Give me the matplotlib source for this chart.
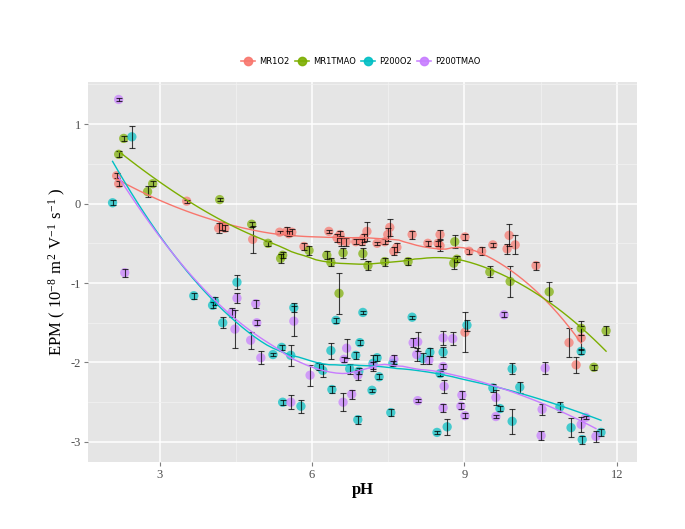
import numpy as np
import matplotlib
matplotlib.use("Agg")
import matplotlib.pyplot as plt
from matplotlib.lines import Line2D
from matplotlib.ticker import MultipleLocator

plt.rcParams["axes.unicode_minus"] = False

# MR1O2
mr1o2_ph = [2.15, 2.19, 3.53, 4.16, 4.22, 4.28, 4.83, 5.36, 5.50, 5.54, 5.60, 5.84,
            6.33, 6.49, 6.55, 6.57, 6.67, 6.86, 6.98, 7.02, 7.08, 7.28, 7.43, 7.49,
            7.53, 7.61, 7.67, 7.97, 8.28, 8.48, 8.52, 8.52, 9.01, 9.09, 9.34, 9.56,
            9.84, 9.88, 10.00, 10.41, 11.06, 11.30, 11.20, 9.01]
mr1o2_epm = [0.35, 0.25, 0.03, -0.31, -0.28, -0.31, -0.45, -0.36, -0.35, -0.38, -0.36, -0.54,
             -0.35, -0.43, -0.39, -0.47, -0.48, -0.48, -0.48, -0.43, -0.35, -0.50, -0.48, -0.39,
             -0.30, -0.60, -0.55, -0.39, -0.50, -0.50, -0.39, -0.53, -0.42, -0.60, -0.60, -0.52,
             -0.57, -0.40, -0.52, -0.78, -1.75, -1.69, -2.03, -1.62]
mr1o2_sd = [0.03, 0.03, 0.02, 0.06, 0.05, 0.04, 0.17, 0.02, 0.05, 0.03, 0.04, 0.04,
            0.02, 0.05, 0.04, 0.06, 0.05, 0.03, 0.04, 0.05, 0.12, 0.02, 0.03, 0.08,
            0.11, 0.05, 0.06, 0.05, 0.03, 0.03, 0.06, 0.07, 0.04, 0.03, 0.05, 0.03,
            0.06, 0.14, 0.12, 0.05, 0.18, 0.15, 0.10, 0.25]

# MR1TMAO
mr1tmao_ph = [2.29, 2.19, 2.86, 2.76, 4.18, 4.81, 5.13, 5.38, 5.42, 5.94, 6.29, 6.37,
              6.61, 6.53, 7.00, 7.10, 7.43, 7.89, 8.81, 8.79, 8.85, 9.50, 9.90, 10.67,
              11.30, 11.79, 11.55]
mr1tmao_epm = [0.82, 0.62, 0.25, 0.15, 0.05, -0.26, -0.50, -0.69, -0.65, -0.59, -0.65, -0.74,
               -0.62, -1.13, -0.63, -0.78, -0.73, -0.73, -0.48, -0.75, -0.70, -0.86, -0.98, -1.11,
               -1.57, -1.60, -2.06]
mr1tmao_sd = [0.03, 0.04, 0.03, 0.07, 0.02, 0.03, 0.03, 0.06, 0.04, 0.06, 0.05, 0.05,
              0.06, 0.26, 0.07, 0.06, 0.05, 0.04, 0.08, 0.07, 0.04, 0.07, 0.20, 0.12,
              0.09, 0.06, 0.03]

# P200O2
p200o2_ph = [2.07, 2.45, 3.67, 4.08, 4.04, 4.24, 4.52, 5.40, 5.23, 5.58, 5.64, 5.42,
             5.78, 6.13, 6.21, 6.39, 6.37, 6.47, 6.74, 6.86, 6.94, 7.00, 6.90, 7.18,
             7.20, 7.28, 7.32, 7.55, 7.59, 7.97, 8.18, 8.32, 8.58, 8.52, 8.46, 8.66,
             9.05, 9.56, 9.70, 9.94, 9.94, 10.09, 10.88, 11.10, 11.30, 11.32, 11.69, 6.92]
p200o2_epm = [0.01, 0.84, -1.16, -1.23, -1.28, -1.50, -0.99, -1.81, -1.90, -1.91, -1.31, -2.50,
              -2.55, -2.05, -2.10, -2.34, -1.85, -1.47, -2.08, -1.91, -1.75, -1.37, -2.72, -2.35,
              -2.01, -1.94, -2.18, -2.63, -2.01, -1.43, -1.95, -1.87, -1.87, -2.14, -2.88, -2.81,
              -1.53, -2.32, -2.58, -2.08, -2.74, -2.31, -2.56, -2.82, -1.86, -2.97, -2.88, -2.11]
p200o2_sd = [0.03, 0.14, 0.04, 0.05, 0.04, 0.07, 0.09, 0.03, 0.02, 0.13, 0.06, 0.03,
             0.08, 0.04, 0.08, 0.05, 0.10, 0.03, 0.06, 0.04, 0.03, 0.02, 0.05, 0.02,
             0.10, 0.04, 0.03, 0.04, 0.03, 0.02, 0.07, 0.05, 0.06, 0.03, 0.02, 0.10,
             0.07, 0.05, 0.03, 0.07, 0.16, 0.07, 0.06, 0.12, 0.03, 0.05, 0.04, 0.04]

# P200TMAO
p200tmao_ph = [2.19, 2.31, 4.52, 4.89, 4.42, 4.48, 4.91, 4.79, 4.99, 5.64, 5.58, 5.96,
               6.63, 6.68, 6.61, 6.78, 6.90, 7.20, 7.61, 7.99, 8.08, 8.06, 8.08, 8.30,
               8.58, 8.77, 8.58, 8.60, 8.58, 8.93, 8.95, 9.01, 9.62, 9.62, 9.78, 10.59,
               10.53, 10.51, 11.30, 11.39, 11.59]
p200tmao_epm = [1.31, -0.87, -1.19, -1.26, -1.37, -1.58, -1.50, -1.72, -1.94, -1.48, -2.50, -2.16,
                -1.96, -1.82, -2.50, -2.40, -2.16, -2.04, -1.96, -1.75, -1.74, -1.90, -2.48, -1.97,
                -1.69, -1.70, -2.05, -2.30, -2.57, -2.55, -2.41, -2.67, -2.44, -2.68, -1.40, -2.07,
                -2.59, -2.92, -2.78, -2.69, -2.93]
p200tmao_sd = [0.02, 0.05, 0.06, 0.05, 0.06, 0.24, 0.03, 0.11, 0.08, 0.19, 0.09, 0.13,
               0.03, 0.12, 0.11, 0.06, 0.06, 0.04, 0.06, 0.06, 0.12, 0.08, 0.02, 0.05,
               0.09, 0.08, 0.03, 0.08, 0.05, 0.04, 0.05, 0.03, 0.09, 0.02, 0.03, 0.07,
               0.07, 0.06, 0.10, 0.02, 0.07]

labels = ["MR1O2", "MR1TMAO", "P200O2", "P200TMAO"]
colors = ["#F8766D", "#7CAE00", "#00BFC4", "#C77CFF"]


def loess(x, y, span=0.75, n=80):
    # local quadratic fit with tricube weights, like R's loess default
    x = np.asarray(x, float)
    y = np.asarray(y, float)
    grid = np.linspace(x.min(), x.max(), n)
    q = int(np.floor(span * len(x)))
    fit = []
    for g in grid:
        d = np.abs(x - g)
        h = np.sort(d)[q - 1]
        w = np.clip(1 - (d / h) ** 3, 0, None) ** 3
        A = np.vstack([np.ones_like(x), x - g, (x - g) ** 2]).T
        sw = np.sqrt(w)
        coef = np.linalg.lstsq(A * sw[:, None], y * sw, rcond=None)[0]
        fit.append(coef[0])
    return grid, np.array(fit)


series = [
    (mr1o2_ph, mr1o2_epm, mr1o2_sd),
    (mr1tmao_ph, mr1tmao_epm, mr1tmao_sd),
    (p200o2_ph, p200o2_epm, p200o2_sd),
    (p200tmao_ph, p200tmao_epm, p200tmao_sd),
]

fig = plt.figure(figsize=(6.85, 5.29), dpi=100)
ax = fig.add_axes([0.128, 0.127, 0.802, 0.718])
ax.set_facecolor("#E5E5E5")

for (ph, epm, sd), col in zip(series, colors):
    ax.scatter(ph, epm, s=45, color=col, alpha=0.7, edgecolors="none", zorder=3)
    ax.errorbar(ph, epm, yerr=sd, fmt="none", ecolor="black", elinewidth=0.8,
                capsize=2.5, capthick=0.8, alpha=0.75, zorder=4)
    gx, gy = loess(ph, epm)
    ax.plot(gx, gy, color=col, lw=1.0, zorder=5)

ax.set_xlim(1.58, 12.4)
ax.set_ylim(-3.25, 1.53)
ax.xaxis.set_major_locator(MultipleLocator(3))
ax.yaxis.set_major_locator(MultipleLocator(1))
ax.xaxis.set_minor_locator(MultipleLocator(1.5))
ax.yaxis.set_minor_locator(MultipleLocator(0.5))
ax.grid(which="major", color="white", lw=1.1)
ax.grid(which="minor", color="#F2F2F2", lw=0.5)
ax.set_axisbelow(True)
for s in ax.spines.values():
    s.set_visible(False)
ax.tick_params(which="major", length=3, color="#7F7F7F", labelcolor="#4D4D4D",
               labelsize=9, pad=2)
ax.tick_params(which="minor", length=0)
for lab in ax.get_xticklabels() + ax.get_yticklabels():
    lab.set_family("Liberation Serif")

ax.set_xlabel("pH", family="Liberation Serif", fontweight="bold", fontsize=12,
              labelpad=1)
ax.set_ylabel(r"EPM ( $\mathregular{10^{-8}\ m^{2}\ V^{-1}\ s^{-1}}$ )",
              family="Liberation Serif", fontsize=12, labelpad=2)

handles = [Line2D([], [], color=c, marker="o", markersize=6, lw=1.2, alpha=0.9)
           for c in colors]
fig.legend(handles, labels, loc="center", ncol=4, bbox_to_anchor=(0.527, 0.883),
           frameon=False, fontsize=6, handlelength=1.7, columnspacing=0.6,
           handletextpad=0.5)

fig.savefig("out.png", dpi=100)
